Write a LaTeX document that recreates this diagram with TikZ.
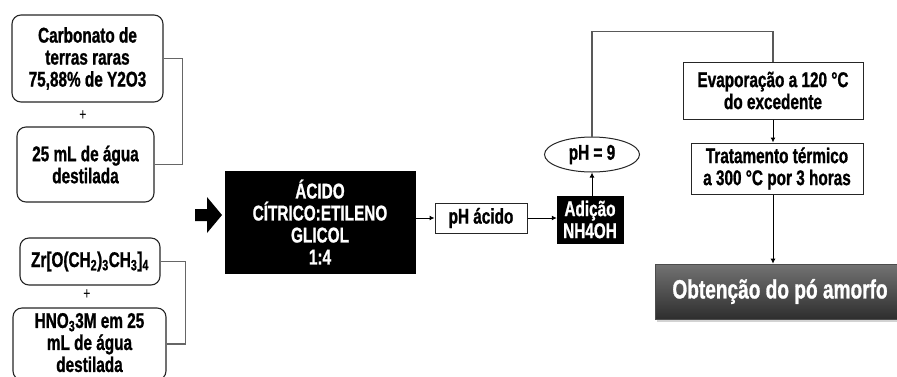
\documentclass[tikz,border=0pt]{standalone}
\usepackage{fontspec}
\usetikzlibrary{arrows.meta}
\usetikzlibrary{shapes.geometric}
\usetikzlibrary{shadows}
\newfontfamily\caixafont{Liberation Sans}[FakeStretch=0.72, BoldFeatures={FakeBold=1}]
\newcommand{\fcaixa}{\caixafont\bfseries\fontsize{21.3}{22}\selectfont}
\tikzset{
  caixa/.style={draw=black!85, line width=1.1pt, rounded corners=9pt, fill=white,
    align=center, inner sep=0pt, font=\fcaixa},
  quadro/.style={draw=black!85, line width=1pt, fill=white, align=center,
    inner sep=0pt, font=\fcaixa},
  preto/.style={draw=black, fill=black, text=white, align=center,
    inner sep=0pt, font=\fcaixa},
  mais/.style={font=\caixafont\fontsize{17}{18}\selectfont, inner sep=0pt},
  chave/.style={draw=black!60, line width=1.1pt},
  seta/.style={draw=black, line width=1pt, -{Latex[length=5pt,width=5pt]}},
  linha/.style={draw=black!65, line width=1.1pt}
}

\begin{document}
\begin{tikzpicture}[x=1pt, y=-1pt]
\useasboundingbox (0,0) rectangle (897,376);

% ---- reagentes: carbonato + agua ----
\node[caixa, minimum width=151pt, minimum height=87pt] (carb) at (87.5,58.5)
  {Carbonato de\\terras raras\\75,88\% de Y2O3};
\node[mais] (mais1) at (83,116) {+};
\node[caixa, minimum width=137pt, minimum height=75pt] (agua1) at (85.5,164.5)
  {25 mL de água\\destilada};
\draw[chave] (carb.east) -- ++(19,0) |- (agua1.east);

% ---- reagentes: butoxido de zirconio + HNO3 ----
\node[caixa, minimum width=140pt, minimum height=47pt] (zr) at (90,261.5)
  {Zr[O(CH\textsubscript{2})\textsubscript{3}CH\textsubscript{3}]\textsubscript{4}};
\node[mais] (mais2) at (87,295) {+};
\node[caixa, minimum width=153pt, minimum height=72pt] (hno) at (89.5,344)
  {HNO\textsubscript{3}3M em 25\\mL de água\\destilada\rule[-3pt]{0pt}{1pt}};
\draw[chave] (zr.east) -- ++(25,0) |- (hno.east);

% ---- mistura ----
\fill[black] (195,209) -- (207,209) -- (207,197) -- (222,215) -- (207,233)
  -- (207,221) -- (195,221) -- cycle;
\node[preto, minimum width=190pt, minimum height=102pt] (acido) at (320,222)
  {ÁCIDO\\CÍTRICO:ETILENO\\GLICOL\\1:4};
\node[quadro, minimum width=92pt, minimum height=30pt] (phac) at (481,218) {pH ácido};
\node[preto, minimum width=66pt, minimum height=47pt] (adic) at (590,219.5)
  {Adição\\NH4OH};
\node[ellipse, draw=black!85, line width=1pt, minimum width=95pt, minimum height=35pt,
  inner sep=0pt, font=\fcaixa] (ph9) at (592,154.5) {pH = 9};

\draw[seta] (acido.east |- phac.west) -- (phac.west);
\draw[seta] (phac.east) -- (phac.east -| adic.west);
\draw[seta] (adic.north -| ph9.south) -- (ph9.south);

% ---- tratamento ----
\node[quadro, minimum width=180pt, minimum height=57pt] (evap) at (773,90.5)
  {Evaporação a 120 °C\\do excedente};
\node[quadro, minimum width=172pt, minimum height=51pt] (trat) at (777,168.5)
  {Tratamento térmico\\a 300 °C por 3 horas};
\node[draw=black!70, line width=0.6pt, top color=black!55, bottom color=black!82,
  minimum width=250pt, minimum height=55pt, inner sep=0pt,
  drop shadow={opacity=0.35, shadow xshift=2pt, shadow yshift=-3pt},
  text=white, font=\caixafont\bfseries\fontsize{26.5}{28}\selectfont] (obt) at (780,291.5)
  {Obtenção do pó amorfo};

\draw[linha] (ph9.north) -- ++(0,-105) -| (evap.north);
\draw[seta] (evap.south) -- (evap.south |- trat.north);
\draw[seta] (evap.south |- trat.south) -- (evap.south |- obt.north);

\end{tikzpicture}
\end{document}
